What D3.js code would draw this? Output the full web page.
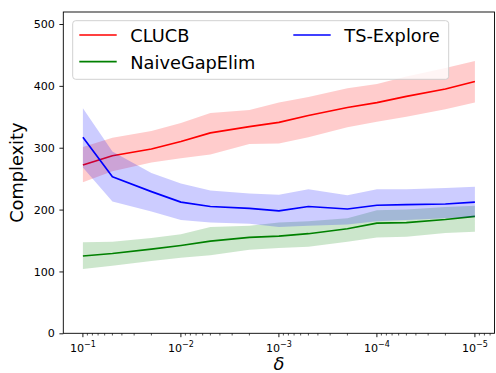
<!DOCTYPE html>
<html>
<head>
<meta charset="utf-8">
<script src="https://d3js.org/d3.v7.min.js"></script>
<style>
  body { margin: 0; background: #fff; }
  svg { display: block; font-family: "DejaVu Sans", sans-serif; }
</style>
</head>
<body>
<div id="chart"></div>
<script>

// Data (delta values on the x axis, complexity on y)

const deltas = [1e-1, 5e-2, 2e-2, 1e-2, 5e-3, 2e-3, 1e-3, 5e-4, 2e-4, 1e-4, 5e-5, 2e-5, 1e-5];

const clucbMean  = [272, 287, 298, 310, 324, 334, 341, 352, 365, 373, 383, 395, 407];
const clucbUpper = [301, 316, 327, 340, 356, 361, 373, 382, 396, 403, 415, 429, 440];
const clucbLower = [244, 262, 276, 283, 289, 306, 307, 317, 333, 342, 350, 362, 373];

const naiveMean  = [125, 129, 136, 142, 149, 155, 157, 161, 169, 178, 179, 184, 189];
const naiveUpper = [147, 148, 154, 160, 172, 174, 179, 181, 186, 199, 200, 204, 206];
const naiveLower = [104, 109, 117, 122, 126, 135, 138, 140, 148, 155, 156, 162, 164];

const tsMean  = [317, 253, 229, 212, 205, 202, 198, 205, 201, 207, 208, 209, 212];
const tsUpper = [364, 294, 259, 242, 231, 226, 224, 233, 223, 233, 233, 235, 237];
const tsLower = [268, 213, 197, 183, 179, 177, 172, 174, 176, 181, 183, 186, 188];

const yTicks = [0, 100, 200, 300, 400, 500];
const xTickExps = [-1, -2, -3, -4, -5];

const seriesNames = ["CLUCB", "NaiveGapElim", "TS-Explore"];
const seriesColors = ["#ff0000", "#008000", "#0000ff"];

const width = 496;
const height = 373;
const margin = {top: 12, right: 1.5, bottom: 39.7, left: 63.3};

let svg = d3.select("#chart")
  .append("svg")
  .attr("width", width)
  .attr("height", height);

// Scales (x is log scale, reversed: 10^-1 on the left)
let xScale = d3.scaleLog()
  .domain([Math.pow(10, -0.8), Math.pow(10, -5.2)])
  .range([margin.left, width - margin.right]);

let yScale = d3.scaleLinear()
  .domain([0, 519.4])
  .range([height - margin.bottom, margin.top]);

// Bands + lines, drawn per algorithm
const series = [
  {mean: clucbMean, upper: clucbUpper, lower: clucbLower},
  {mean: naiveMean, upper: naiveUpper, lower: naiveLower},
  {mean: tsMean, upper: tsUpper, lower: tsLower}
];

let plot = svg.append("g");

series.forEach(function(s, k) {
  let rows = deltas.map((d, i) => ({d: d, m: s.mean[i], hi: s.upper[i], lo: s.lower[i]}));

  let line = d3.line()
    .x(r => xScale(r.d))
    .y(r => yScale(r.m));

  let area = d3.area()
    .x(r => xScale(r.d))
    .y0(r => yScale(r.lo))
    .y1(r => yScale(r.hi));

  plot.append("path")
    .datum(rows)
    .attr("d", line)
    .attr("fill", "none")
    .attr("stroke", seriesColors[k])
    .attr("stroke-width", 1.67)
    .attr("stroke-linejoin", "round");

  plot.append("path")
    .datum(rows)
    .attr("d", area)
    .attr("fill", seriesColors[k])
    .attr("fill-opacity", 0.2)
    .attr("stroke", "none");
});

// Axes
let yAxis = d3.axisLeft(yScale)
  .tickValues(yTicks)
  .tickSize(3.9)
  .tickPadding(4.5)
  .tickFormat(d3.format("d"));

let gy = svg.append("g")
  .attr("transform", `translate(${margin.left}, 0)`)
  .call(yAxis);
gy.select(".domain").remove();
gy.selectAll("line").attr("stroke", "#000").attr("stroke-width", 0.9);
gy.selectAll("text")
  .attr("font-size", "11.1px")
  .attr("fill", "#000")
  .attr("font-family", "DejaVu Sans");

// minor ticks on the log axis
let minorTicks = [];
for (let e = -6; e <= -1; e++) {
  for (let m = 2; m <= 9; m++) {
    let v = m * Math.pow(10, e);
    let lv = Math.log10(v);
    if (lv > -5.2 && lv < -0.8) minorTicks.push(v);
  }
}

let gx = svg.append("g")
  .attr("transform", `translate(0, ${height - margin.bottom})`);

gx.selectAll(".minor")
  .data(minorTicks)
  .enter()
  .append("line")
    .attr("class", "minor")
    .attr("x1", d => xScale(d))
    .attr("x2", d => xScale(d))
    .attr("y1", 0)
    .attr("y2", 2.2)
    .attr("stroke", "#000")
    .attr("stroke-width", 0.67);

gx.selectAll(".major")
  .data(xTickExps)
  .enter()
  .append("line")
    .attr("class", "major")
    .attr("x1", e => xScale(Math.pow(10, e)))
    .attr("x2", e => xScale(Math.pow(10, e)))
    .attr("y1", 0)
    .attr("y2", 3.9)
    .attr("stroke", "#000")
    .attr("stroke-width", 0.9);

let xLabels = gx.selectAll(".xlab")
  .data(xTickExps)
  .enter()
  .append("text")
    .attr("class", "xlab")
    .attr("x", e => xScale(Math.pow(10, e)))
    .attr("y", 18.7)
    .attr("text-anchor", "middle")
    .attr("font-size", "11.1px")
    .attr("fill", "#000");

xLabels.append("tspan").text("10");
xLabels.append("tspan")
  .attr("dy", -5.2)
  .attr("font-size", "8px")
  .text(e => "\u2212" + Math.abs(e));

// Frame
svg.append("rect")
  .attr("x", margin.left)
  .attr("y", margin.top)
  .attr("width", width - margin.left - margin.right)
  .attr("height", height - margin.top - margin.bottom)
  .attr("fill", "none")
  .attr("stroke", "#000")
  .attr("stroke-width", 0.9);

// Axis titles
svg.append("text")
  .attr("transform", `translate(23, ${(margin.top + height - margin.bottom) / 2}) rotate(-90)`)
  .attr("text-anchor", "middle")
  .attr("font-size", "17.8px")
  .attr("fill", "#000")
  .text("Complexity");

svg.append("text")
  .attr("x", (margin.left + width - margin.right) / 2)
  .attr("y", 370)
  .attr("text-anchor", "middle")
  .attr("font-size", "17.8px")
  .attr("font-style", "italic")
  .attr("fill", "#000")
  .text("\u03b4");

// Legend
let legend = svg.append("g");

legend.append("rect")
  .attr("x", 72.7)
  .attr("y", 20.7)
  .attr("width", 376)
  .attr("height", 58.6)
  .attr("rx", 3)
  .attr("fill", "#fff")
  .attr("fill-opacity", 0.8)
  .attr("stroke", "#cccccc")
  .attr("stroke-width", 0.9);

const legendPos = [
  {x: 79.3, y: 35},
  {x: 79.3, y: 61.7},
  {x: 293.3, y: 35}
];

seriesNames.forEach(function(name, k) {
  let p = legendPos[k];
  legend.append("line")
    .attr("x1", p.x)
    .attr("x2", p.x + 37.4)
    .attr("y1", p.y)
    .attr("y2", p.y)
    .attr("stroke", seriesColors[k])
    .attr("stroke-width", 1.67);
  legend.append("text")
    .attr("x", p.x + 51)
    .attr("y", p.y + 6.8)
    .attr("font-size", "17.8px")
    .attr("fill", "#000")
    .text(name);
});

</script>
</body>
</html>
